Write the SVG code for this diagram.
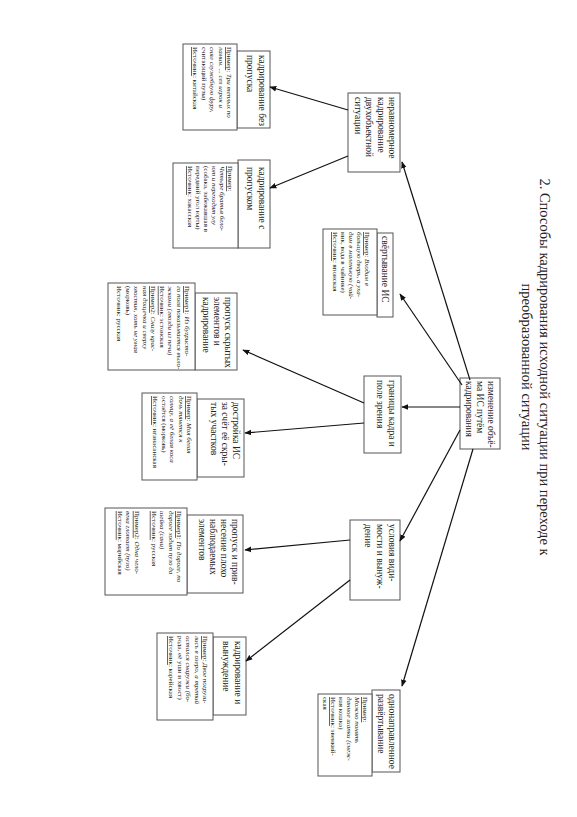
<svg xmlns="http://www.w3.org/2000/svg" width="577" height="817" viewBox="0 0 577 817">
<defs>
<marker id="ah" viewBox="0 0 10 10" refX="9" refY="5" markerWidth="7" markerHeight="7" orient="auto" markerUnits="userSpaceOnUse"><path d="M0,1 L10,5 L0,9 z" fill="#111"/></marker>
<style>
.box{fill:#fff;stroke:#555;stroke-width:1}
.t{font-family:"Liberation Serif",serif;fill:#222}
.title{font-size:14.5px}
.h{font-size:9.5px}
.e{font-size:7px}
.u{text-decoration:underline}
.i{font-style:italic}
.con line{stroke:#111;stroke-width:1.2;marker-end:url(#ah)}
</style>
</defs>
<rect width="577" height="817" fill="#fff"/>
<g transform="translate(577,0) rotate(90)">
<g id="title" class="t title">
<text x="367" y="37" text-anchor="middle">2. Способы кадрирования исходной ситуации при переходе к</text>
<text x="367" y="55" text-anchor="middle">преобразованной ситуации</text>
</g>
<g id="center" class="t h">
<rect class="box" x="378" y="77" width="71" height="40"/>
<text x="381" y="89">изменение объё-</text>
<text x="381" y="100">ма ИС путём</text>
<text x="381" y="111">кадрирования</text>
</g>
<g id="nerav" class="t h">
<rect class="box" x="93" y="177" width="79" height="52"/>
<text x="97" y="188">неравномерное</text>
<text x="97" y="199.5">кадрирование</text>
<text x="97" y="211">двухобъектной</text>
<text x="97" y="222.5">ситуации</text>
</g>
<g id="bez" class="t">
<rect class="box" x="51" y="307" width="77" height="33"/>
<text class="h" x="55" y="318">кадрирование без</text>
<text class="h" x="55" y="330">пропуска</text>
<rect class="box" x="44" y="340" width="86" height="54"/>
<g class="e"><text x="47" y="350"><tspan class="u">Пример</tspan>: <tspan class="i">Три теплых по</tspan></text>
<text x="47" y="358.5" class="i">ламин. ... сел игрок и</text>
<text x="47" y="367" class="i">снял служебную фуру,</text>
<text x="47" y="375.5">считающий пузы)</text>
<text x="47" y="384"><tspan class="u">Источник</tspan>: китайская</text></g>
</g>
<g id="spropusk" class="t">
<rect class="box" x="160" y="307" width="88" height="32"/>
<text class="h" x="167" y="318">кадрирование с</text>
<text class="h" x="167" y="330">пропуском</text>
<rect class="box" x="163" y="339" width="85" height="65"/>
<g class="e"><text x="166" y="349" class="u">Пример:</text>
<text x="166" y="357" class="i">Четыре братья бело-</text>
<text x="166" y="365" class="i">ют и переходят улу</text>
<text x="166" y="373">(собака, забежавшая в</text>
<text x="166" y="381">передний угол юрты)</text>
<text x="166" y="389"><tspan class="u">Источник</tspan>: хакасская</text></g>
</g>
<g id="svert" class="t">
<rect class="box" x="233" y="184" width="84" height="16"/>
<text class="h" x="236" y="195">свёртывание ИС</text>
<rect class="box" x="229" y="200" width="86" height="54"/>
<g class="e"><text x="232" y="212"><tspan class="u">Пример</tspan>: <tspan class="i">Входим в</tspan></text>
<text x="232" y="220" class="i">большую дверь, а уха-</text>
<text x="232" y="228" class="i">дим в маленькую (чай-</text>
<text x="232" y="236">ник, вода в чайнике)</text>
<text x="232" y="244"><tspan class="u">Источник</tspan>: японская</text></g>
</g>
<g id="granicy" class="t h">
<rect class="box" x="376" y="176" width="77" height="37"/>
<text x="380" y="188">границы кадра и</text>
<text x="380" y="200">поле зрения</text>
</g>
<g id="skryt" class="t">
<rect class="box" x="293" y="340" width="77" height="42"/>
<text class="h" x="297" y="352">пропуск скрытых</text>
<text class="h" x="297" y="363">элементов и</text>
<text class="h" x="297" y="374">кадрирование</text>
<rect class="box" x="283" y="382" width="87" height="87"/>
<g class="e"><text x="286" y="392"><tspan class="u">Пример1</tspan>: <tspan class="i">Из бугристо-</tspan></text>
<text x="286" y="400.5" class="i">го поля показывается выло-</text>
<text x="286" y="409" class="i">жками (гвозди из печи)</text>
<text x="286" y="417.5"><tspan class="u">Источник</tspan>: эстонская</text>
<text x="286" y="426"><tspan class="u">Пример2</tspan>: <tspan class="i">Снизу крас-</tspan></text>
<text x="286" y="434.5" class="i">ная дощечка и сверху</text>
<text x="286" y="443" class="i">хвостик, хоть не умая</text>
<text x="286" y="451.5">(морковь)</text>
<text x="286" y="460">Источник: русская</text></g>
</g>
<g id="dostr" class="t">
<rect class="box" x="399" y="333" width="78" height="47"/>
<text class="h" x="402" y="344">достройка ИС</text>
<text class="h" x="402" y="355">за счёт её скры-</text>
<text class="h" x="402" y="366">тых участков</text>
<rect class="box" x="393" y="380" width="87" height="55"/>
<g class="e"><text x="396" y="390"><tspan class="u">Пример</tspan>: <tspan class="i">Моя белая</tspan></text>
<text x="396" y="398.5" class="i">дочь тянется к</text>
<text x="396" y="407" class="i">солнцу, а её белая коса</text>
<text x="396" y="415.5">остаётся (морковь)</text>
<text x="396" y="424"><tspan class="u">Источник</tspan>: нганасанская</text></g>
</g>
<g id="uslov" class="t h">
<rect class="box" x="520" y="177" width="80" height="50"/>
<text x="524" y="188">условия види-</text>
<text x="524" y="200">мости и вынуж-</text>
<text x="524" y="212">дение</text>
</g>
<g id="privn" class="t">
<rect class="box" x="515" y="334" width="78" height="56"/>
<text class="h" x="519" y="345">пропуск и прив-</text>
<text class="h" x="519" y="356">несение плохо</text>
<text class="h" x="519" y="367">наблюдаемых</text>
<text class="h" x="519" y="378">элементов</text>
<rect class="box" x="508" y="390" width="87" height="82"/>
<g class="e"><text x="511" y="400"><tspan class="u">Пример1</tspan>: <tspan class="i">По дороге, по</tspan></text>
<text x="511" y="408.5" class="i">дороге ходит пузо да</text>
<text x="511" y="417" class="i">шейка (сани)</text>
<text x="511" y="425.5"><tspan class="u">Источник</tspan>: русская</text>
<text x="511" y="442.5"><tspan class="u">Пример2</tspan>: <tspan class="i">Одна чело-</tspan></text>
<text x="511" y="451" class="i">века глотает (пузо)</text>
<text x="511" y="459.5"><tspan class="u">Источник</tspan>: марийская</text></g>
</g>
<g id="vyn" class="t">
<rect class="box" x="637" y="331" width="78" height="33"/>
<text class="h" x="641" y="342">кадрирование и</text>
<text class="h" x="641" y="354">вынуждение</text>
<rect class="box" x="633" y="364" width="87" height="56"/>
<g class="e"><text x="636" y="374"><tspan class="u">Пример</tspan>: <tspan class="i">Двое погрузи-</tspan></text>
<text x="636" y="382.5" class="i">лись в озеро, а третий</text>
<text x="636" y="391" class="i">остался снаружи (бо-</text>
<text x="636" y="399.5">рода, её уши и хвост)</text>
<text x="636" y="408"><tspan class="u">Источник</tspan>: корейская</text></g>
</g>
<g id="odnonapr" class="t">
<rect class="box" x="690" y="177" width="82" height="28"/>
<text class="h" x="694" y="188">однонаправленное</text>
<text class="h" x="694" y="199">развёртывание</text>
<rect class="box" x="694" y="205" width="82" height="54"/>
<g class="e"><text x="697" y="214" class="u">Пример:</text>
<text x="697" y="222" class="i">Можно понять</text>
<text x="697" y="230" class="i">данное шапки (снеж-</text>
<text x="697" y="238">ная кошка)</text>
<text x="697" y="246"><tspan class="u">Источник</tspan>: эвенкий-</text>
<text x="697" y="254">ская</text></g>
</g>
<g id="connectors" class="con">
<line x1="380" y1="107" x2="162" y2="175"/>
<line x1="385" y1="115" x2="294" y2="177"/>
<line x1="407" y1="117" x2="407" y2="175"/>
<line x1="430" y1="117" x2="541" y2="177"/>
<line x1="449" y1="104" x2="686" y2="175"/>
<line x1="110" y1="229" x2="87" y2="307"/>
<line x1="156" y1="229" x2="188" y2="307"/>
<line x1="403" y1="213" x2="350" y2="334"/>
<line x1="423" y1="213" x2="433" y2="332"/>
<line x1="540" y1="227" x2="550" y2="332"/>
<line x1="580" y1="227" x2="661" y2="331"/>
</g>
</g>
</svg>
